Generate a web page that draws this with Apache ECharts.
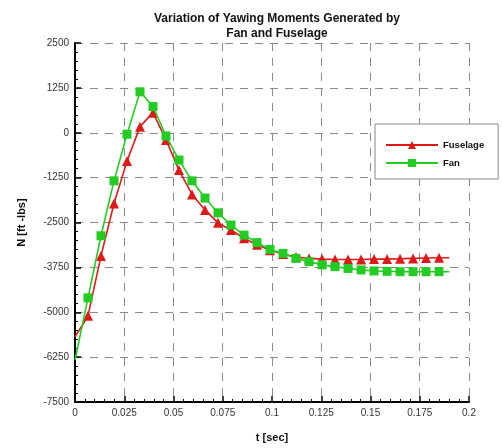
<!DOCTYPE html>
<html>
<head>
<meta charset="utf-8">
<script src="https://cdn.jsdelivr.net/npm/echarts@6/dist/echarts.min.js"></script>
<style>
  html, body { margin: 0; padding: 0; background: #fff; }
  #chart { width: 502px; height: 448px; }
</style>
</head>
<body>
<div id="chart"></div>
<script>
// Time samples [sec]
const times = [0, 0.0066, 0.0132, 0.0198, 0.0264, 0.033, 0.0396, 0.0462, 0.0528, 0.0594,
  0.066, 0.0726, 0.0792, 0.0858, 0.0924, 0.099, 0.1056, 0.1122, 0.1188, 0.1254,
  0.132, 0.1386, 0.1452, 0.1518, 0.1584, 0.165, 0.1716, 0.1782, 0.1848, 0.19];

// Yawing moment N [ft-lbs]
const fuselage = [-5690, -5100, -3430, -1970, -790, 170, 560, -200, -1040, -1720,
  -2150, -2510, -2710, -2940, -3120, -3270, -3380, -3460, -3500, -3520,
  -3530, -3530, -3530, -3520, -3520, -3510, -3500, -3490, -3480, -3480];
const fan = [-6330, -4600, -2870, -1340, -40, 1140, 730, -90, -760, -1340,
  -1820, -2230, -2570, -2850, -3060, -3250, -3360, -3500, -3590, -3680,
  -3730, -3780, -3820, -3850, -3860, -3870, -3870, -3870, -3870, -3870];

const yTicks = [-7500, -6250, -5000, -3750, -2500, -1250, 0, 1250, 2500];

// first and last samples are plain line ends, no marker
function toSeriesData(vals) {
  return vals.map((v, i) => {
    const item = { value: [times[i], v] };
    if (i === 0 || i === vals.length - 1) item.symbol = 'none';
    return item;
  });
}

const font = '"Liberation Sans", Arial, sans-serif';
const dashed = { show: true, lineStyle: { color: '#8a8a8a', width: 1, type: [8, 7] } };

const chart = echarts.init(document.getElementById('chart'));
chart.setOption({
  animation: false,
  backgroundColor: '#fff',
  title: {
    text: 'Variation of Yawing Moments Generated by\nFan and Fuselage',
    left: 272, top: 6, textAlign: 'center',
    textStyle: { fontFamily: font, fontSize: 12, fontWeight: 'bold', color: '#111', lineHeight: 15 }
  },
  grid: { left: 75, right: 33, top: 43, bottom: 46 },
  legend: {
    orient: 'vertical',
    left: 375, top: 124,
    padding: [16, 14, 11, 10],
    itemGap: 8,
    itemWidth: 52, itemHeight: 10,
    borderColor: '#888', borderWidth: 1,
    backgroundColor: '#fff',
    textStyle: { fontFamily: font, fontSize: 9.5, fontWeight: 'bold', color: '#111' },
    data: ['Fuselage', 'Fan']
  },
  xAxis: {
    type: 'value', min: 0, max: 0.2, interval: 0.025,
    name: 't [sec]', nameLocation: 'middle', nameGap: 30,
    nameTextStyle: { fontFamily: font, fontSize: 11, fontWeight: 'bold', color: '#111' },
    axisLine: { onZero: false, lineStyle: { color: '#000', width: 2 } },
    axisTick: { inside: true, length: 6, lineStyle: { color: '#000', width: 1.5 } },
    minorTick: { show: true, splitNumber: 5, length: 3, lineStyle: { color: '#000' } },
    axisLabel: { fontFamily: font, fontSize: 10, color: '#333', margin: 6 },
    splitLine: dashed
  },
  yAxis: {
    type: 'value', min: yTicks[0], max: yTicks[yTicks.length - 1], interval: 1250,
    name: 'N [ft -lbs]', nameLocation: 'middle', nameGap: 48, nameRotate: 90,
    nameTextStyle: { fontFamily: font, fontSize: 11, fontWeight: 'bold', color: '#111' },
    axisLine: { show: true, onZero: false, lineStyle: { color: '#000', width: 2 } },
    axisTick: { show: true, inside: true, length: 6, lineStyle: { color: '#000', width: 1.5 } },
    minorTick: { show: true, splitNumber: 5, length: 3, lineStyle: { color: '#000' } },
    axisLabel: { fontFamily: font, fontSize: 10, color: '#333', margin: 6, formatter: v => String(v) },
    splitLine: dashed
  },
  series: [
    {
      name: 'Fuselage', type: 'line',
      data: toSeriesData(fuselage),
      symbol: 'triangle', symbolSize: 10,
      lineStyle: { color: '#dd1a1a', width: 1.6 },
      itemStyle: { color: '#dd1a1a' },
      z: 2
    },
    {
      name: 'Fan', type: 'line',
      data: toSeriesData(fan),
      symbol: 'rect', symbolSize: 9,
      lineStyle: { color: '#22cc22', width: 1.6 },
      itemStyle: { color: '#22cc22' },
      z: 3
    }
  ]
});
</script>
</body>
</html>
